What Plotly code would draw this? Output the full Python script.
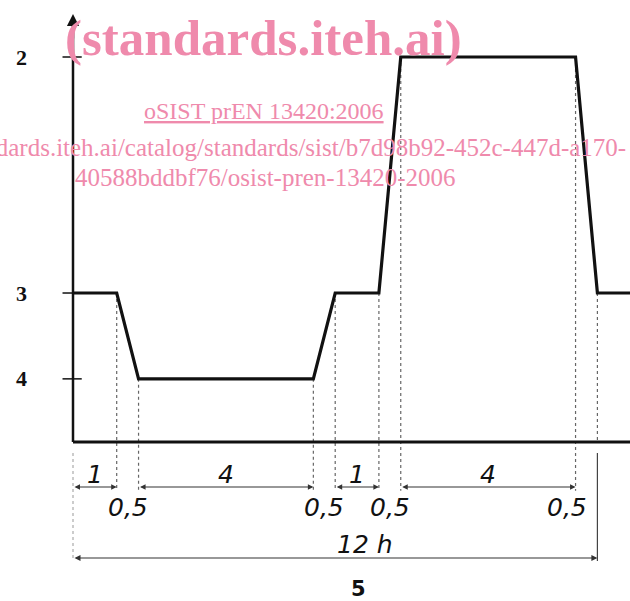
import numpy as np
import plotly.graph_objects as go

# ---------------- data ----------------
SEGMENT_HOURS = [1, 0.5, 4, 0.5, 1, 0.5, 4, 0.5]
SEGMENT_LABELS = ["1", "0,5", "4", "0,5", "1", "0,5", "4", "0,5"]
BREAKPOINT_LEVELS = ["3", "3", "4", "4", "3", "3", "2", "2", "3"]
LEVEL_NAMES = ["2", "3", "4"]
LEVEL_HEIGHTS = [1.0, 0.387, 0.164]   # relative height above baseline
TOTAL_LABEL = "12 h"
TOTAL_HOURS = 12
CURVE_TAIL_HOURS = 13
AXIS_LABEL = "5"

WATERMARK_TITLE = "(standards.iteh.ai)"
WATERMARK_DOC = "oSIST prEN 13420:2006"
WATERMARK_URL1 = "https://standards.iteh.ai/catalog/standards/sist/b7d98b92-452c-447d-a170-"
WATERMARK_URL2 = "40588bddbf76/osist-pren-13420-2006"

# ---------------- derived ----------------
level_h = dict(zip(LEVEL_NAMES, LEVEL_HEIGHTS))
t_break = np.concatenate([[0], np.cumsum(SEGMENT_HOURS)])
y_break = [level_h[n] for n in BREAKPOINT_LEVELS]
curve_t = list(t_break) + [CURVE_TAIL_HOURS]
curve_y = y_break + [y_break[-1]]

# pixel mapping of reference: x = 73 + 43.7*t ; y = 442 - 385*v
PXH = 43.7
PXV = 385.0
X0, Y0 = 73, 442
xr = [(0 - X0) / PXH, (630 - X0) / PXH]
yr = [(Y0 - 601) / PXV, (Y0 - 0) / PXV]
def vy(py):
    return (Y0 - py) / PXV
def tx(px):
    return (px - X0) / PXH

ROW1 = vy(487)
ROW1_LBL = vy(474)
ROW2_LBL = vy(507)
ROW3 = vy(558)
ROW3_LBL = vy(544)
EXT_TOP = vy(453)
EXT_BOT = vy(561)

INK = "#111111"
DOT = "#666666"
PINK = "#ef8aac"
DIM_FONT = dict(family="DejaVu Sans", size=25, color=INK)

fig = go.Figure()

# dotted extension lines from the curve down to the dimension row
for t, y in zip(t_break[1:-1], y_break[1:-1]):
    fig.add_trace(go.Scatter(x=[t, t], y=[y, ROW1 - 0.01], mode="lines",
                             line=dict(color=DOT, width=1.2, dash="dot"),
                             hoverinfo="skip", showlegend=False))
# last breakpoint dotted to baseline
fig.add_trace(go.Scatter(x=[t_break[-1], t_break[-1]], y=[y_break[-1], 0], mode="lines",
                         line=dict(color=DOT, width=1.2, dash="dot"),
                         hoverinfo="skip", showlegend=False))
# extension lines for the total dimension
fig.add_trace(go.Scatter(x=[0, 0], y=[EXT_TOP, EXT_BOT], mode="lines",
                         line=dict(color="#999999", width=1, dash="dot"),
                         hoverinfo="skip", showlegend=False))
fig.add_trace(go.Scatter(x=[TOTAL_HOURS, TOTAL_HOURS], y=[EXT_TOP, EXT_BOT], mode="lines",
                         line=dict(color="#444444", width=1.2),
                         hoverinfo="skip", showlegend=False))

# axes drawn as lines
fig.add_trace(go.Scatter(x=[0, CURVE_TAIL_HOURS], y=[0, 0], mode="lines",
                         line=dict(color=INK, width=3), hoverinfo="skip", showlegend=False))
fig.add_trace(go.Scatter(x=[0, 0], y=[0, vy(20)], mode="lines",
                         line=dict(color=INK, width=2.5), hoverinfo="skip", showlegend=False))
# level ticks
for h in LEVEL_HEIGHTS:
    fig.add_trace(go.Scatter(x=[-0.24, 0.2], y=[h, h], mode="lines",
                             line=dict(color=INK, width=1.5), hoverinfo="skip", showlegend=False))

# the curve
fig.add_trace(go.Scatter(x=curve_t, y=curve_y, mode="lines",
                         line=dict(color=INK, width=3.2), hoverinfo="skip", showlegend=False))

ann = []
# y-axis arrow head
ann.append(dict(x=0, y=vy(14), ax=0, ay=vy(40), xref="x", yref="y", axref="x", ayref="y",
                text="", showarrow=True, arrowhead=2, arrowsize=1.1, arrowwidth=2.2,
                arrowcolor=INK))

# level labels
for name, h in zip(LEVEL_NAMES, LEVEL_HEIGHTS):
    ann.append(dict(x=tx(21), y=h, xref="x", yref="y", text="<b>%s</b>" % name,
                    xanchor="center", yanchor="middle",
                    showarrow=False, font=dict(family="Liberation Serif", size=22, color=INK)))

# dimension row: arrows for plateau segments, labels for all
for i, (dur, lbl) in enumerate(zip(SEGMENT_HOURS, SEGMENT_LABELS)):
    t0, t1 = t_break[i], t_break[i + 1]
    mid = (t0 + t1) / 2
    if lbl != "0,5":
        ann.append(dict(x=t1, y=ROW1, ax=t0, ay=ROW1, xref="x", yref="y", axref="x", ayref="y",
                        text="", showarrow=True, arrowhead=2, arrowside="end+start",
                        arrowsize=1.0, arrowwidth=1.1, arrowcolor="#333333"))
        ann.append(dict(x=mid, y=ROW1_LBL, xref="x", yref="y", text="<i>%s</i>" % lbl,
                        xanchor="center", yanchor="middle",
                        showarrow=False, font=DIM_FONT))
    else:
        shift = -19 if i == len(SEGMENT_HOURS) - 1 else 0
        ann.append(dict(x=mid, y=ROW2_LBL, xref="x", yref="y", text="<i>%s</i>" % lbl,
                        xanchor="center", yanchor="middle",
                        xshift=shift, showarrow=False, font=DIM_FONT))

# total dimension
ann.append(dict(x=TOTAL_HOURS, y=ROW3, ax=0, ay=ROW3, xref="x", yref="y", axref="x", ayref="y",
                text="", showarrow=True, arrowhead=2, arrowside="end+start",
                arrowsize=1.0, arrowwidth=1.2, arrowcolor="#333333"))
ann.append(dict(x=tx(365), y=ROW3_LBL, xref="x", yref="y",
                xanchor="center", yanchor="middle",
                text="<i>%s</i>" % TOTAL_LABEL, showarrow=False, font=DIM_FONT))
ann.append(dict(x=tx(358), y=vy(589), xref="x", yref="y",
                xanchor="center", yanchor="middle",
                text="<b>%s</b>" % AXIS_LABEL, showarrow=False,
                font=dict(family="DejaVu Sans", size=21, color=INK)))

# watermark
ann.append(dict(x=263 / 630, y=1 - 38 / 601, xref="paper", yref="paper", text="<b>%s</b>" % WATERMARK_TITLE,
                xanchor="center", yanchor="middle",
                showarrow=False, font=dict(family="Liberation Serif", size=51, color=PINK)))
ann.append(dict(x=264 / 630, y=1 - 111 / 601, xref="paper", yref="paper", text="<u>%s</u>" % WATERMARK_DOC,
                xanchor="center", yanchor="middle",
                showarrow=False, font=dict(family="Liberation Serif", size=24, color=PINK)))
ann.append(dict(x=628 / 630, y=1 - 147 / 601, xref="paper", yref="paper", text=WATERMARK_URL1,
                xanchor="right", yanchor="middle", showarrow=False,
                font=dict(family="Liberation Serif", size=25, color=PINK)))
ann.append(dict(x=265 / 630, y=1 - 178 / 601, xref="paper", yref="paper", text=WATERMARK_URL2,
                xanchor="center", yanchor="middle",
                showarrow=False, font=dict(family="Liberation Serif", size=25, color=PINK)))

fig.update_layout(
    width=630, height=601,
    margin=dict(l=0, r=0, t=0, b=0),
    paper_bgcolor="white", plot_bgcolor="white",
    xaxis=dict(range=xr, visible=False, fixedrange=True),
    yaxis=dict(range=yr, visible=False, fixedrange=True),
    annotations=ann,
    showlegend=False,
)

fig.write_html("out.html", config={"displayModeBar": False},
               post_script="document.body.style.margin='0';document.body.style.overflow='hidden';")
